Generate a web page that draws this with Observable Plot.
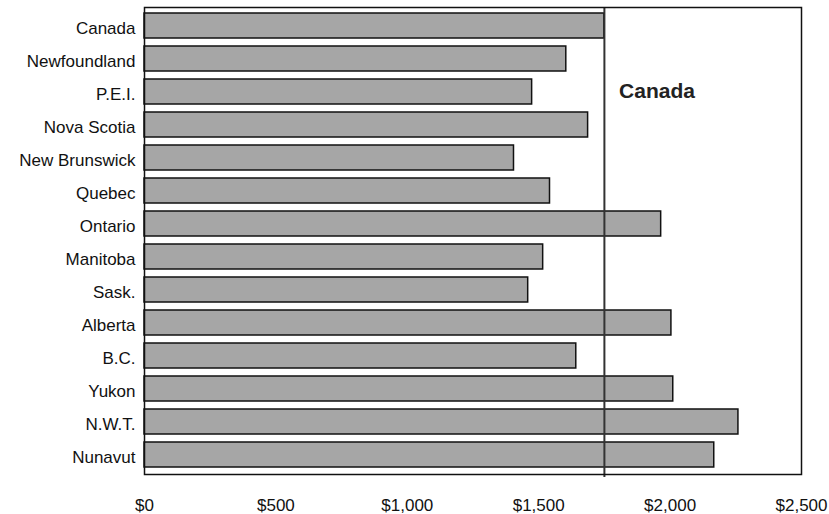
<!DOCTYPE html>
<html>
<head>
<meta charset="utf-8">
<script src="https://cdn.jsdelivr.net/npm/d3@7"></script>
<script src="https://cdn.jsdelivr.net/npm/@observablehq/plot@0.6"></script>
<style>
  html, body { margin: 0; padding: 0; background: #fff; }
  #chart svg { display: block; }
</style>
</head>
<body>
<div id="chart"></div>
<script>
const regions = ["Canada", "Newfoundland", "P.E.I.", "Nova Scotia", "New Brunswick", "Quebec", "Ontario", "Manitoba", "Sask.", "Alberta", "B.C.", "Yukon", "N.W.T.", "Nunavut"];
const spending = [1750, 1605, 1475, 1688, 1406, 1543, 1966, 1517, 1460, 2005, 1643, 2012, 2260, 2168];
const canadaValue = 1750;
const xTicks = [0, 500, 1000, 1500, 2000, 2500];
const annotation = "Canada";

const data = regions.map((r, i) => ({region: r, value: spending[i]}));

const chart = Plot.plot({
  width: 829,
  height: 514,
  marginTop: 7,
  marginBottom: 40,
  marginLeft: 144,
  marginRight: 28,
  style: {fontFamily: "'Liberation Sans', Arial, sans-serif", fontSize: "17px", color: "#111", background: "#fff"},
  x: {domain: [0, 2500], label: null},
  y: {domain: regions, paddingInner: 0.23, paddingOuter: 0.14, label: null},
  marks: [
    Plot.axisX({ticks: xTicks, tickFormat: d => "$" + d3.format(",")(d), tickSize: 0, tickPadding: 24, label: null}),
    Plot.axisY({tickSize: 0, tickPadding: 9, dy: 2.5, label: null}),
    Plot.barX(data, {y: "region", x: "value", fill: "#a6a6a6", stroke: "#111", strokeWidth: 1.5}),
    Plot.ruleX([canadaValue], {stroke: "#333", strokeWidth: 2, insetBottom: -3}),
    Plot.frame({stroke: "#111", strokeWidth: 1.5}),
    Plot.text([{label: annotation, x: 1950, y: regions[2]}], {x: "x", y: "y", text: "label", fontWeight: "bold", fontSize: 21, fill: "#222", dy: -1})
  ]
});
document.getElementById("chart").append(chart);
</script>
</body>
</html>
